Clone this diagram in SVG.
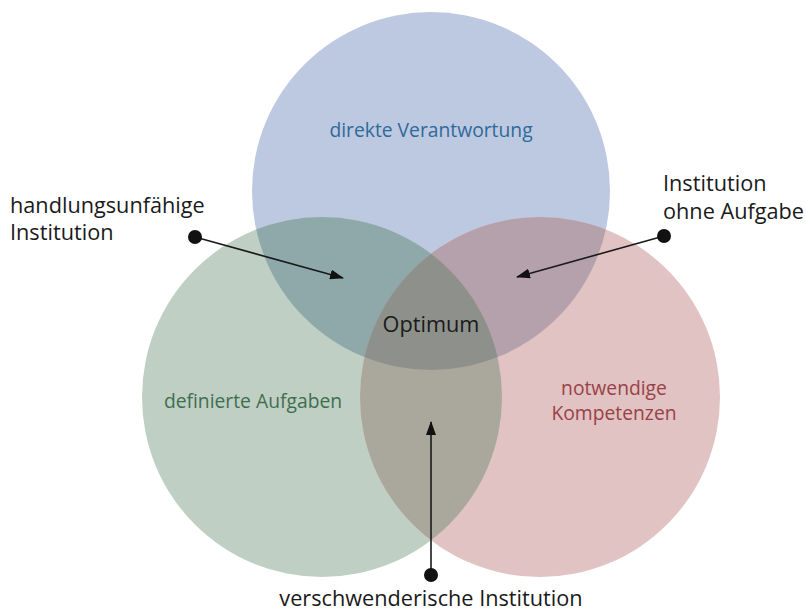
<svg xmlns="http://www.w3.org/2000/svg" width="806" height="613" viewBox="0 0 806 613">
<style>
text{font-family:"Open Sans","Noto Sans",sans-serif;}
.lbl{font-size:21.7px;fill:#1a1a1a;}
.cl{font-size:19.3px;}
.conn{stroke:#1a1a1a;stroke-width:1.6;fill:none;}
.dot{fill:#111;}
</style>
<defs>
<clipPath id="cT"><circle cx="431" cy="191" r="179"/></clipPath>
<clipPath id="cL"><circle cx="322" cy="397" r="180"/></clipPath>
<clipPath id="cR"><circle cx="540" cy="397" r="180"/></clipPath>
<marker id="ah" viewBox="0 0 14 10" refX="13" refY="5" markerWidth="14" markerHeight="10" markerUnits="userSpaceOnUse" orient="auto">
<path d="M0,0 L14,5 L0,10 Z" fill="#111"/>
</marker>
</defs>
<rect width="806" height="613" fill="#fff"/>
<g id="circle-top"><circle cx="431" cy="191" r="179" fill="#bdc9e0"/></g>
<g id="circle-left"><circle cx="322" cy="397" r="180" fill="#bfcfc4"/></g>
<g id="circle-right"><circle cx="540" cy="397" r="180" fill="#e0c3c2"/></g>
<g id="overlaps">
<g clip-path="url(#cT)"><circle cx="322" cy="397" r="180" fill="#8fa8aa"/><circle cx="540" cy="397" r="180" fill="#b5a1ab"/></g>
<g clip-path="url(#cL)"><circle cx="540" cy="397" r="180" fill="#aaa89c"/></g>
<g clip-path="url(#cT)"><g clip-path="url(#cL)"><circle cx="540" cy="397" r="180" fill="#8e918b"/></g></g>
</g>
<g id="label-top"><text x="431" y="137" text-anchor="middle" class="cl" fill="#2f6a9a">direkte Verantwortung</text></g>
<g id="label-left"><text x="253" y="408" text-anchor="middle" class="cl" fill="#3f6e4f">definierte Aufgaben</text></g>
<g id="label-right"><text x="614" y="395" text-anchor="middle" class="cl" fill="#9a4148">notwendige</text><text x="614" y="420" text-anchor="middle" class="cl" fill="#9a4148">Kompetenzen</text></g>
<g id="label-center"><text x="431" y="332" text-anchor="middle" class="lbl">Optimum</text></g>
<g id="connectors">
<line class="conn" x1="195" y1="237" x2="343" y2="278" marker-end="url(#ah)"/>
<line class="conn" x1="664" y1="236" x2="517" y2="277" marker-end="url(#ah)"/>
<line class="conn" x1="431" y1="575" x2="431" y2="422" marker-end="url(#ah)"/>
<circle class="dot" cx="195" cy="237" r="7"/>
<circle class="dot" cx="664" cy="236" r="7"/>
<circle class="dot" cx="431" cy="575" r="7"/>
</g>
<g id="note-left"><text x="10" y="213" class="lbl">handlungsunfähige</text><text x="10" y="240" class="lbl">Institution</text></g>
<g id="note-right"><text x="663" y="191" class="lbl">Institution</text><text x="663" y="219" class="lbl">ohne Aufgabe</text></g>
<g id="note-bottom"><text x="431" y="606" text-anchor="middle" class="lbl">verschwenderische Institution</text></g>
</svg>
